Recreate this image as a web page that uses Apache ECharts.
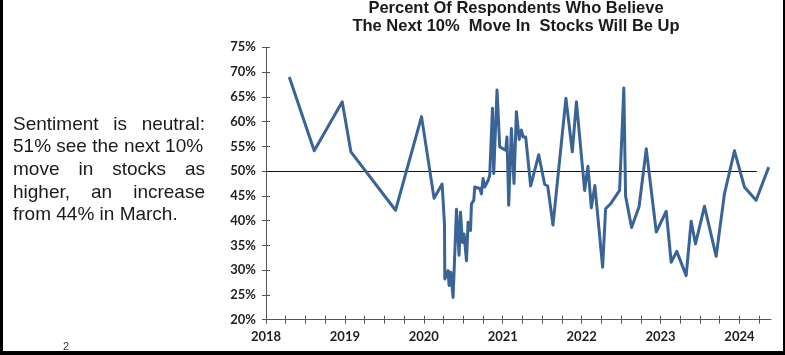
<!DOCTYPE html>
<html>
<head>
<meta charset="utf-8">
<script src="https://cdn.jsdelivr.net/npm/echarts@6/dist/echarts.min.js"></script>
<style>
html,body{margin:0;padding:0;background:#fff;}
#c{width:785px;height:355px;}
</style>
</head>
<body>
<div id="c"></div>
<script>
const titleLines = ['Percent Of Respondents Who Believe', 'The Next 10%  Move In  Stocks Will Be Up'];
const yearLabels = [2018, 2019, 2020, 2021, 2022, 2023, 2024];
const quarterTicks = [2018,2018.25,2018.5,2018.75,2019,2019.25,2019.5,2019.75,2020,2020.25,2020.5,2020.75,2021,2021.25,2021.5,2021.75,2022,2022.25,2022.5,2022.75,2023,2023.25,2023.5,2023.75,2024,2024.25];
const yTicks = [20,25,30,35,40,45,50,55,60,65,70,75];
const neutralLevel = 50;
const neutralEnd = 2024.22;
const dates = [2018.295,2018.611,2018.966,2019.076,2019.642,2019.971,2020.130,2020.232,2020.262,2020.266,2020.308,2020.320,2020.342,2020.371,2020.414,2020.447,2020.465,2020.490,2020.510,2020.541,2020.561,2020.592,2020.604,2020.633,2020.646,2020.709,2020.730,2020.751,2020.772,2020.814,2020.835,2020.870,2020.886,2020.928,2020.962,2021.038,2021.054,2021.076,2021.110,2021.143,2021.173,2021.209,2021.237,2021.259,2021.291,2021.354,2021.456,2021.532,2021.570,2021.637,2021.801,2021.882,2021.934,2022.038,2022.080,2022.123,2022.168,2022.266,2022.304,2022.367,2022.481,2022.535,2022.557,2022.633,2022.728,2022.819,2022.946,2023.072,2023.135,2023.206,2023.325,2023.388,2023.443,2023.557,2023.705,2023.810,2023.937,2024.063,2024.211,2024.371];
const bullish = [69.0,54.1,64.0,53.9,42.1,61.0,44.5,47.4,39.3,28.2,29.9,26.9,29.6,24.5,42.3,33.0,41.7,35.6,37.3,31.9,39.7,38.0,43.4,44.1,46.8,46.5,45.4,48.5,46.8,48.1,49.1,62.7,49.5,66.4,54.9,54.2,56.9,43.1,58.6,47.5,62.0,56.4,58.3,56.9,56.9,47.0,53.3,47.3,47.0,39.1,64.7,53.9,64.0,46.1,51.0,42.6,47.1,30.6,42.4,43.4,46.1,66.8,45.0,38.6,42.8,54.5,37.7,41.9,31.6,33.8,28.9,39.9,35.3,42.9,32.8,45.4,54.1,46.8,44.1,50.8];
const noteLines = [
  ['Sentiment', 'is', 'neutral:'],
  ['51% see the next 10%'],
  ['move', 'in', 'stocks', 'as'],
  ['higher,', 'an', 'increase'],
  ['from 44% in March.']
];
const pageNumber = '2';

const chart = echarts.init(document.getElementById('c'));
const seriesData = dates.map((d, i) => [d, bullish[i]]);

const noteFont = '19px "Liberation Sans", Arial, sans-serif';
const noteLeft = 13, noteRight = 205, noteTop = 126, noteStep = 22.6;
const graphics = [];
const ctx = document.createElement('canvas').getContext('2d');
ctx.font = noteFont;
noteLines.forEach((words, li) => {
  const y = noteTop + li * noteStep;
  if (words.length === 1) {
    graphics.push({type:'text', left: noteLeft, top: y - 11, style:{text: words[0], font: noteFont, fill:'#1a1a1a'}});
    return;
  }
  const widths = words.map(w => ctx.measureText(w).width);
  const total = widths.reduce((a,b)=>a+b,0);
  const gap = (noteRight - noteLeft - total) / (words.length - 1);
  let x = noteLeft;
  words.forEach((w, wi) => {
    graphics.push({type:'text', left: x, top: y - 11, style:{text: w, font: noteFont, fill:'#1a1a1a'}});
    x += widths[wi] + gap;
  });
});
graphics.push({type:'rect', left:0, top:0, shape:{width:3, height:355}, style:{fill:'#000'}});
graphics.push({type:'rect', left:0, top:351, shape:{width:785, height:4}, style:{fill:'#000'}});
graphics.push({type:'rect', left:783, top:0, shape:{width:2, height:355}, style:{fill:'#000'}});
graphics.push({type:'text', left:63, top:341, style:{text: pageNumber, font:'11px "Liberation Sans", Arial, sans-serif', fill:'#333'}});

const axisLabelStyle = {fontFamily:'Lato, "Liberation Sans", sans-serif', fontWeight:'bold', fontSize:13, color:'#1e1e1e'};
const yAxisBase = {type:'value', min:20, max:75, interval:5};
const xAxisBase = {type:'value', min:2018, max:2024.4};

chart.setOption({
  animation:false,
  backgroundColor:'#fff',
  title:{
    text: titleLines.join('\n'),
    left: 511, top: -6, textAlign:'center',
    textStyle:{fontFamily:'"Liberation Sans", Arial, sans-serif', fontWeight:'bold', fontSize:16.5, lineHeight:18, color:'#1a1a1a'}
  },
  grid:{left:266, right:14, top:47.3, bottom:35.3},
  xAxis:[
    Object.assign({}, xAxisBase, {
      axisLine:{show:true, lineStyle:{color:'#555', width:1}},
      axisTick:{show:true, length:4, inside:false, customValues: quarterTicks, lineStyle:{color:'#555'}},
      axisLabel:Object.assign({show:true, margin:11, customValues: yearLabels, formatter: v => String(Math.round(v))}, axisLabelStyle),
      splitLine:{show:false}
    }),
    Object.assign({}, xAxisBase, {
      position:'bottom',
      axisLine:{show:false},
      axisTick:{show:true, length:4, inside:true, customValues: quarterTicks, lineStyle:{color:'#555'}},
      axisLabel:{show:false},
      splitLine:{show:false}
    })
  ],
  yAxis:[
    Object.assign({}, yAxisBase, {
      axisLine:{show:true, lineStyle:{color:'#555', width:1}},
      axisTick:{show:true, length:4, inside:false, lineStyle:{color:'#555'}},
      axisLabel:Object.assign({margin:10, formatter:'{value}%'}, axisLabelStyle),
      splitLine:{show:false}
    }),
    Object.assign({}, yAxisBase, {
      position:'left',
      axisLine:{show:false},
      axisTick:{show:true, length:4, inside:true, lineStyle:{color:'#555'}},
      axisLabel:{show:false},
      splitLine:{show:false}
    })
  ],
  series:[{
    type:'line',
    data: seriesData,
    showSymbol:false,
    symbol:'none',
    lineStyle:{color:'#3a6396', width:3, join:'round'},
    z:3,
    markLine:{
      silent:true, symbol:'none', label:{show:false},
      lineStyle:{color:'#111', width:1, type:'solid'},
      data:[[{coord:[2018, neutralLevel]}, {coord:[neutralEnd, neutralLevel]}]],
      z:2
    }
  }],
  graphic: graphics
});
</script>
</body>
</html>
